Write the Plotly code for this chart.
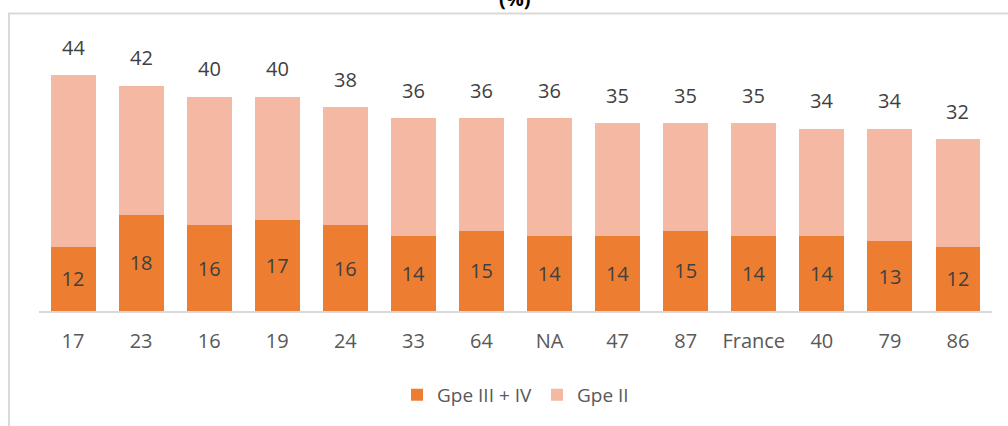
import plotly.graph_objects as go

# departements (and France) ordered by total
categories = ["17", "23", "16", "19", "24", "33", "64", "NA", "47", "87", "France", "40", "79", "86"]
totals = [44, 42, 40, 40, 38, 36, 36, 36, 35, 35, 35, 34, 34, 32]
gpe_3_4 = [12, 18, 16, 17, 16, 14, 15, 14, 14, 15, 14, 14, 13, 12]
gpe_2 = [t - g for t, g in zip(totals, gpe_3_4)]

orange = "#ED7D31"
pink = "#F4B8A3"
txt = "#404040"
font = "Open Sans"

fig = go.Figure()
fig.add_trace(go.Bar(x=categories, y=gpe_3_4, name="Gpe III + IV", marker=dict(color=orange, line=dict(width=0)),
                     text=gpe_3_4, textposition="inside", insidetextanchor="middle", textangle=0,
                     insidetextfont=dict(family=font, size=20, color=txt), constraintext="none"))
fig.add_trace(go.Bar(x=categories, y=gpe_2, name="Gpe II", marker=dict(color=pink, line=dict(width=0)),
                     hovertext=totals))

# total labels above the stacks (category index positions)
for i, t in enumerate(totals):
    fig.add_annotation(x=i, y=t, text=str(t), showarrow=False, yanchor="middle", yshift=28,
                       font=dict(family=font, size=20, color=txt))

# cropped title, only the bottom is visible
fig.add_annotation(xref="paper", yref="paper", x=0.499, y=1.11, yanchor="bottom", text="<b>(%)</b>",
                   showarrow=False, font=dict(family=font, size=20, color="#000000"))

# chart border (cropped on the right and bottom)
fig.add_shape(type="rect", xref="paper", yref="paper", x0=-0.0315, x1=1.2, y0=-0.6, y1=1.11,
              line=dict(color="#D9D9D9", width=2), layer="below")

fig.update_layout(
    width=1008, height=426,
    margin=dict(l=39, r=16, t=43, b=115),
    barmode="stack", bargap=0.34,
    plot_bgcolor="white", paper_bgcolor="white",
    font=dict(family=font, size=20, color="#595959"),
    showlegend=True,
    legend=dict(orientation="h", x=0.5, xanchor="center", y=-0.313, yanchor="middle",
                font=dict(family=font, size=19, color="#595959"), traceorder="normal"),
    xaxis=dict(type="category", range=[-0.5, len(categories) - 0.5], showline=True, linecolor="#D9D9D9",
               linewidth=1.5, ticks="", ticklabelstandoff=11,
               tickfont=dict(family=font, size=20, color="#595959"), showgrid=False),
    yaxis=dict(range=[0, 50], visible=False, showgrid=False),
)

fig.write_html("out.html", config={"displayModeBar": False},
               post_script="document.body.style.margin = '0';")
